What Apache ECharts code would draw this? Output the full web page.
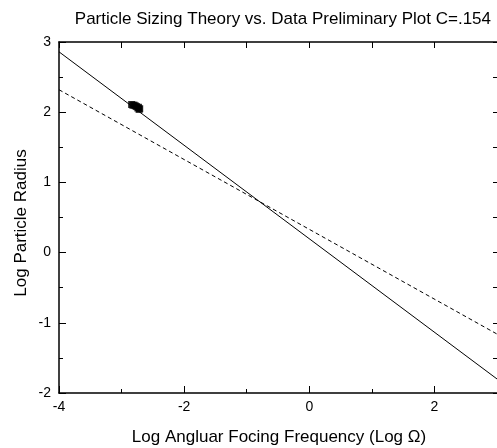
<!DOCTYPE html>
<html><head><meta charset="utf-8">
<script src="https://cdn.jsdelivr.net/npm/echarts@6/dist/echarts.min.js"></script>
<style>html,body{margin:0;padding:0;background:#fff}#c{width:497px;height:448px}</style>
</head><body><div id="c"></div>
<script>
const theoryX = [-4, 3];
const theoryY = [2.86, -1.80];
const fitX = [-4, 3];
const fitY = [2.32, -1.16];
const dataX = [-2.84, -2.82, -2.80, -2.78, -2.76, -2.74, -2.72, -2.71, -2.73];
const dataY = [2.11, 2.10, 2.10, 2.09, 2.08, 2.06, 2.04, 2.05, 2.07];
const xTicks = [-4, -2, 0, 2];
const yTicks = [-2, -1, 0, 1, 2, 3];

const F = 'Liberation Sans, Arial, sans-serif';
const chart = echarts.init(document.getElementById('c'));
const zip = (a, b) => a.map((v, i) => [v, b[i]]);
const axLine = {show: true, onZero: false, lineStyle: {color: '#000', width: 1.5}};
chart.setOption({
  animation: false,
  grid: {left: 59, top: 42, width: 438, height: 351, containLabel: false},
  title: {text: 'Particle Sizing Theory vs. Data Preliminary Plot C=.154', right: 1, top: 6,
    textStyle: {fontFamily: F, fontSize: 17, fontWeight: 'normal', color: '#000'}},
  graphic: [
    {type: 'text', x: 279, y: 437, style: {text: 'Log Angluar Focing Frequency (Log Ω)', font: '17px ' + F, fill: '#000', align: 'center', verticalAlign: 'middle'}},
    {type: 'text', x: 21, y: 223, rotation: Math.PI / 2, style: {text: 'Log Particle Radius', font: '17px ' + F, fill: '#000', align: 'center', verticalAlign: 'middle'}}
  ],
  xAxis: [
    {type: 'value', min: -4, max: 3, interval: 2, axisLine: axLine,
      axisTick: {show: true, inside: true, length: 7, lineStyle: {color: '#000'}},
      minorTick: {show: true, splitNumber: 2, length: 4, lineStyle: {color: '#000'}},
      splitLine: {show: false},
      axisLabel: {fontFamily: F, fontSize: 14, color: '#000', margin: 7, customValues: xTicks}},
    {type: 'value', position: 'top', min: -4, max: 3, interval: 1, axisLine: axLine,
      axisTick: {show: true, inside: true, length: 6, lineStyle: {color: '#000'}},
      splitLine: {show: false}, axisLabel: {show: false}}
  ],
  yAxis: [
    {type: 'value', position: 'left', min: -2, max: 3, interval: 1, axisLine: axLine,
      axisTick: {show: true, inside: true, length: 7, lineStyle: {color: '#000'}},
      minorTick: {show: true, splitNumber: 2, length: 4, lineStyle: {color: '#000'}},
      splitLine: {show: false},
      axisLabel: {fontFamily: F, fontSize: 14, color: '#000', margin: 8, customValues: yTicks}},
    {type: 'value', position: 'right', min: -2, max: 3, interval: 0.5, axisLine: {show: false, onZero: false},
      axisTick: {show: true, inside: true, length: 4, lineStyle: {color: '#000'}},
      splitLine: {show: false}, axisLabel: {show: false}}
  ],
  series: [
    {type: 'line', data: zip(theoryX, theoryY), showSymbol: false, lineStyle: {color: '#000', width: 1}, silent: true},
    {type: 'line', data: zip(fitX, fitY), showSymbol: false, lineStyle: {color: '#000', width: 1, type: [4, 3]}, silent: true},
    {type: 'scatter', data: zip(dataX, dataY), symbol: 'rect', symbolSize: 7, itemStyle: {color: '#000'}}
  ]
});
</script></body></html>
